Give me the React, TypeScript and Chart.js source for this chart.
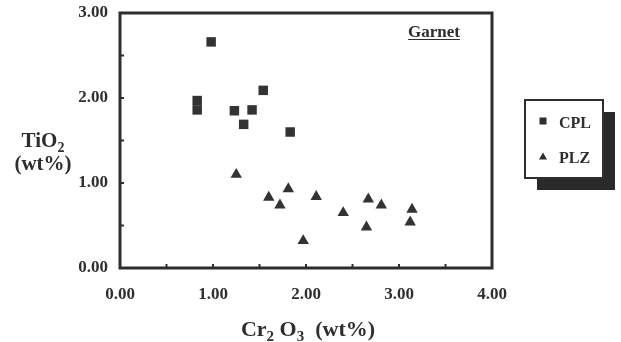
import React, { useEffect, useRef } from "react";
import { Chart, registerables } from "chart.js";

Chart.register(...registerables);

// CPL (squares): Cr2O3, TiO2
const cplX = [0.98, 0.83, 0.83, 1.23, 1.42, 1.33, 1.54, 1.83];
const cplY = [2.66, 1.97, 1.86, 1.85, 1.86, 1.69, 2.09, 1.60];
// PLZ (triangles)
const plzX = [1.25, 1.6, 1.72, 1.81, 1.97, 2.11, 2.4, 2.67, 2.65, 2.81, 3.14, 3.12];
const plzY = [1.1, 0.83, 0.74, 0.93, 0.32, 0.84, 0.65, 0.81, 0.48, 0.74, 0.69, 0.54];

const xTickLabels = ["0.00", "1.00", "2.00", "3.00", "4.00"];
const yTickLabels = ["0.00", "1.00", "2.00", "3.00"];
const seriesNames = ["CPL", "PLZ"];
const panelLabel = "Garnet";

const FONT = '"Liberation Serif", "Times New Roman", serif';
const INK = "#2e2e2e";

type Run = { t: string; sub?: boolean };

function drawRuns(ctx: CanvasRenderingContext2D, runs: Run[], cx: number, baseline: number, size: number) {
  const subSize = Math.round(size * 0.68);
  let total = 0;
  const widths = runs.map((r) => {
    ctx.font = `bold ${r.sub ? subSize : size}px ${FONT}`;
    const w = ctx.measureText(r.t).width;
    total += w;
    return w;
  });
  let x = cx - total / 2;
  ctx.textAlign = "left";
  ctx.textBaseline = "alphabetic";
  runs.forEach((r, i) => {
    ctx.font = `bold ${r.sub ? subSize : size}px ${FONT}`;
    ctx.fillText(r.t, x, baseline + (r.sub ? size * 0.22 : 0));
    x += widths[i];
  });
}

function square(ctx: CanvasRenderingContext2D, x: number, y: number, s: number) {
  ctx.fillRect(x - s / 2, y - s / 2, s, s);
}
function triangle(ctx: CanvasRenderingContext2D, x: number, y: number, w: number, h: number) {
  ctx.beginPath();
  ctx.moveTo(x, y - h / 2);
  ctx.lineTo(x + w / 2, y + h / 2);
  ctx.lineTo(x - w / 2, y + h / 2);
  ctx.closePath();
  ctx.fill();
}

const decor = {
  id: "decor",
  afterDraw(chart: any) {
    const ctx: CanvasRenderingContext2D = chart.ctx;
    const { left, right, top, bottom } = chart.chartArea;
    const xs = chart.scales.x;
    const ys = chart.scales.y;
    ctx.save();
    // frame
    ctx.strokeStyle = INK;
    ctx.lineWidth = 3;
    ctx.strokeRect(left, top, right - left, bottom - top);
    // inner ticks
    ctx.lineWidth = 2;
    for (let v = 0.5; v < 4; v += 0.5) {
      const px = xs.getPixelForValue(v);
      ctx.beginPath();
      ctx.moveTo(px, bottom);
      ctx.lineTo(px, bottom - 4);
      ctx.stroke();
    }
    for (let v = 0.5; v < 3; v += 0.5) {
      const py = ys.getPixelForValue(v);
      ctx.beginPath();
      ctx.moveTo(left, py);
      ctx.lineTo(left + 4, py);
      ctx.stroke();
    }
    ctx.fillStyle = INK;
    // panel label
    ctx.font = `bold 17px ${FONT}`;
    ctx.textAlign = "center";
    ctx.textBaseline = "alphabetic";
    const gx = 434;
    const gy = 37;
    ctx.fillText(panelLabel, gx, gy);
    const gw = ctx.measureText(panelLabel).width;
    ctx.lineWidth = 1;
    ctx.beginPath();
    ctx.moveTo(gx - gw / 2, gy + 2.5);
    ctx.lineTo(gx + gw / 2, gy + 2.5);
    ctx.stroke();
    // axis titles
    drawRuns(ctx, [{ t: "Cr" }, { t: "2", sub: true }, { t: " O" }, { t: "3", sub: true }, { t: "  (wt%)" }], 308, 336, 22);
    drawRuns(ctx, [{ t: "TiO" }, { t: "2", sub: true }], 43, 147, 21);
    drawRuns(ctx, [{ t: "(wt%)" }], 43, 170, 21);
    // legend shadow + box
    ctx.fillStyle = "#2a2a2a";
    ctx.fillRect(537, 112, 78, 78);
    ctx.fillStyle = "#ffffff";
    ctx.fillRect(525, 100, 78, 78);
    ctx.strokeStyle = INK;
    ctx.lineWidth = 2;
    ctx.strokeRect(525, 100, 78, 78);
    ctx.fillStyle = INK;
    square(ctx, 543, 121, 7);
    triangle(ctx, 543, 156, 8, 7);
    ctx.font = `bold 16px ${FONT}`;
    ctx.textAlign = "left";
    ctx.fillText(seriesNames[0], 559, 128);
    ctx.fillText(seriesNames[1], 559, 163);
    ctx.restore();
  },
};

export default function App() {
  const ref = useRef<HTMLCanvasElement | null>(null);
  useEffect(() => {
    if (!ref.current) return;
    const chart = new Chart(ref.current, {
      type: "scatter",
      data: {
        datasets: [
          {
            label: seriesNames[0],
            data: cplX.map((x, i) => ({ x, y: cplY[i] })),
            pointStyle: "rect",
            pointRadius: 6.7,
            backgroundColor: "#333333",
            borderColor: "#333333",
            borderWidth: 0,
          },
          {
            label: seriesNames[1],
            data: plzX.map((x, i) => ({ x, y: plzY[i] })),
            pointStyle: "triangle",
            pointRadius: 6.6,
            backgroundColor: "#333333",
            borderColor: "#333333",
            borderWidth: 0,
          },
        ],
      },
      options: {
        animation: false,
        responsive: false,
        layout: { padding: { top: 13, right: 129, left: 0, bottom: 0 } },
        plugins: { legend: { display: false }, tooltip: { enabled: false } },
        scales: {
          x: {
            type: "linear",
            min: 0,
            max: 4,
            afterFit: (s: any) => { s.height = 74; s.paddingLeft = 0; s.paddingRight = 0; },
            grid: { display: false, drawTicks: false },
            border: { display: false },
            ticks: {
              stepSize: 1,
              padding: 16,
              color: INK,
              font: { family: FONT, size: 17, weight: "bold" },
              callback: (v: any) => xTickLabels[Math.round(Number(v))] ?? "",
            },
          },
          y: {
            type: "linear",
            min: 0,
            max: 3,
            afterFit: (s: any) => { s.width = 120; s.paddingTop = 0; s.paddingBottom = 0; },
            grid: { display: false, drawTicks: false },
            border: { display: false },
            ticks: {
              stepSize: 1,
              padding: 12,
              color: INK,
              font: { family: FONT, size: 17, weight: "bold" },
              callback: (v: any) => yTickLabels[Math.round(Number(v))] ?? "",
            },
          },
        },
      },
      plugins: [decor],
    });
    return () => chart.destroy();
  }, []);
  return (
    <div style={{ position: "absolute", left: 0, top: 0, width: 621, height: 342, background: "#fff" }}>
      <canvas ref={ref} width={621} height={342} />
    </div>
  );
}
